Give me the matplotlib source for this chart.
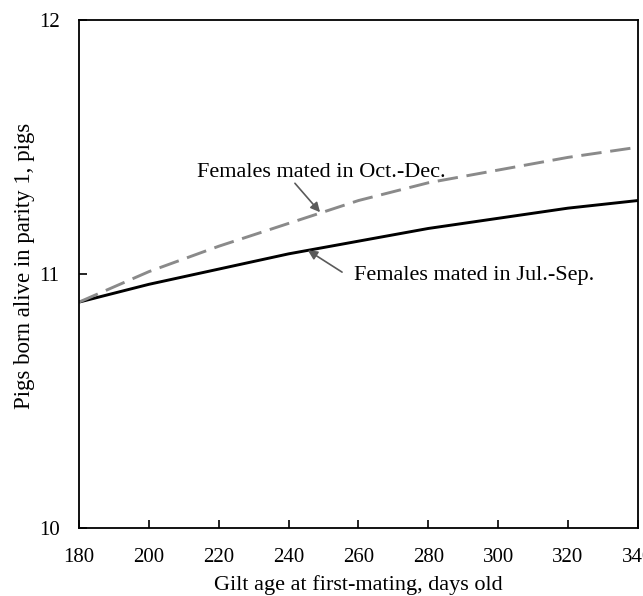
import matplotlib.pyplot as plt

plt.rcParams['font.family'] = ['Liberation Serif', 'DejaVu Serif']

# Gilt age at first mating (days) and predicted pigs born alive in parity 1
age = [180, 200, 220, 240, 260, 280, 300, 320, 340]
jul_sep = [10.89, 10.96, 11.02, 11.08, 11.13, 11.18, 11.22, 11.26, 11.29]
oct_dec = [10.89, 11.01, 11.11, 11.20, 11.29, 11.36, 11.41, 11.46, 11.50]

x_ticks = [180, 200, 220, 240, 260, 280, 300, 320, 340]
y_ticks = [10, 11, 12]

fig = plt.figure(figsize=(6.43, 5.96), dpi=100)
ax = fig.add_axes([0.123, 0.114, 0.869, 0.852])

ax.plot(age, jul_sep, color='black', lw=2.1, solid_capstyle='butt')
ax.plot(age, oct_dec, color='#8a8a8a', lw=2.1, dashes=(7, 3))

ax.set_xlim(180, 340)
ax.set_ylim(10, 12)
ax.set_xticks(x_ticks)
ax.set_yticks(y_ticks)
ax.tick_params(direction='in', length=5.5, width=1.2, labelsize=15, pad=14)
for s in ax.spines.values():
    s.set_linewidth(1.3)

ax.set_xlabel('Gilt age at first-mating, days old', fontsize=16, labelpad=6)
ax.set_ylabel('Pigs born alive in parity 1, pigs', fontsize=16.5)
ax.yaxis.set_label_coords(-0.079, 0.516)

# labels and pointer arrows
ax.text(249.4, 11.40, 'Females mated in Oct.-Dec.', ha='center', va='center', fontsize=16)
ax.text(293.0, 10.995, 'Females mated in Jul.-Sep.', ha='center', va='center', fontsize=16)

arrow = dict(arrowstyle='-|>', color='#5a5a5a', lw=1.2, mutation_scale=14,
             shrinkA=0, shrinkB=0)
ax.annotate('', xy=(249.0, 11.244), xytext=(241.8, 11.358), arrowprops=arrow)
ax.annotate('', xy=(245.5, 11.094), xytext=(255.3, 11.008), arrowprops=arrow)

fig.savefig('out.png', dpi=100)
